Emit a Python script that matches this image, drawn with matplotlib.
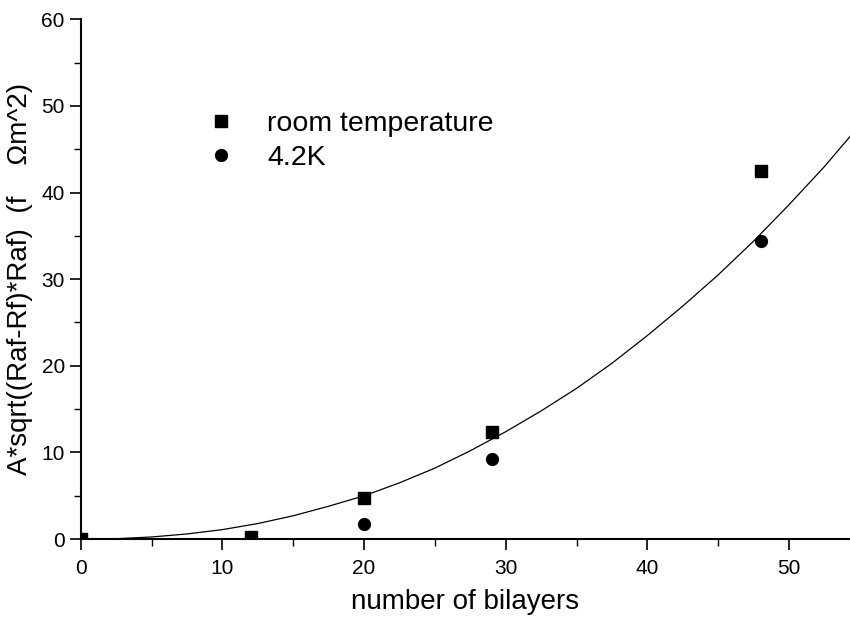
import matplotlib
matplotlib.use("Agg")
import matplotlib.pyplot as plt
from matplotlib.ticker import MultipleLocator

plt.rcParams['font.family'] = ['Liberation Sans', 'DejaVu Sans']

#measured points
n_room = [0, 12, 20, 29, 48]
y_room = [0, 0.2, 4.8, 12.4, 42.5]
n_cold = [0, 20, 29, 48]
y_cold = [0, 1.7, 9.3, 34.4]

#fitted curve
n_fit = [0, 2.5, 5, 7.5, 10, 12.5, 15, 17.5, 20, 22.5, 25, 27.5, 30,
         32.5, 35, 37.5, 40, 42.5, 45, 47.5, 50, 52.5, 55]
y_fit = [0, 0.05, 0.25, 0.6, 1.1, 1.8, 2.7, 3.8, 5.0, 6.5, 8.2, 10.2, 12.4,
         14.8, 17.4, 20.3, 23.5, 26.9, 30.5, 34.4, 38.6, 43.0, 47.8]

fig = plt.figure(figsize=(8.5, 6.19), dpi=100)
ax = fig.add_axes([0.095, 0.129, 0.905, 0.84])

ax.plot(n_fit, y_fit, color='black', lw=0.9)
ax.plot(n_room, y_room, 's', color='black', ms=8, label='room temperature')
ax.plot(n_cold, y_cold, 'o', color='black', ms=8.5, label='4.2K')

ax.set_xlim(0, 54.3)
ax.set_ylim(0, 60)
ax.xaxis.set_major_locator(MultipleLocator(10))
ax.xaxis.set_minor_locator(MultipleLocator(5))
ax.yaxis.set_major_locator(MultipleLocator(10))
ax.yaxis.set_minor_locator(MultipleLocator(5))
ax.tick_params(which='major', direction='out', length=8, width=1.2, labelsize=15)
ax.tick_params(which='minor', direction='out', length=5, width=1.0)
ax.tick_params(axis='x', which='major', pad=6)

ax.spines['top'].set_visible(False)
ax.spines['right'].set_visible(False)
ax.spines['left'].set_linewidth(1.5)
ax.spines['bottom'].set_linewidth(1.5)

ax.set_xlabel("number of bilayers", fontsize=20, labelpad=8)
ax.set_ylabel("A*sqrt((Raf-Rf)*Raf)  (f    Ωm^2)", fontsize=20, labelpad=6)

ax.legend(loc='upper left', bbox_to_anchor=(0.131, 0.873), frameon=False,
          fontsize=20.5, handlelength=1.0, handletextpad=1.1, labelspacing=0.3,
          numpoints=1)

fig.savefig("out.png", dpi=100)
